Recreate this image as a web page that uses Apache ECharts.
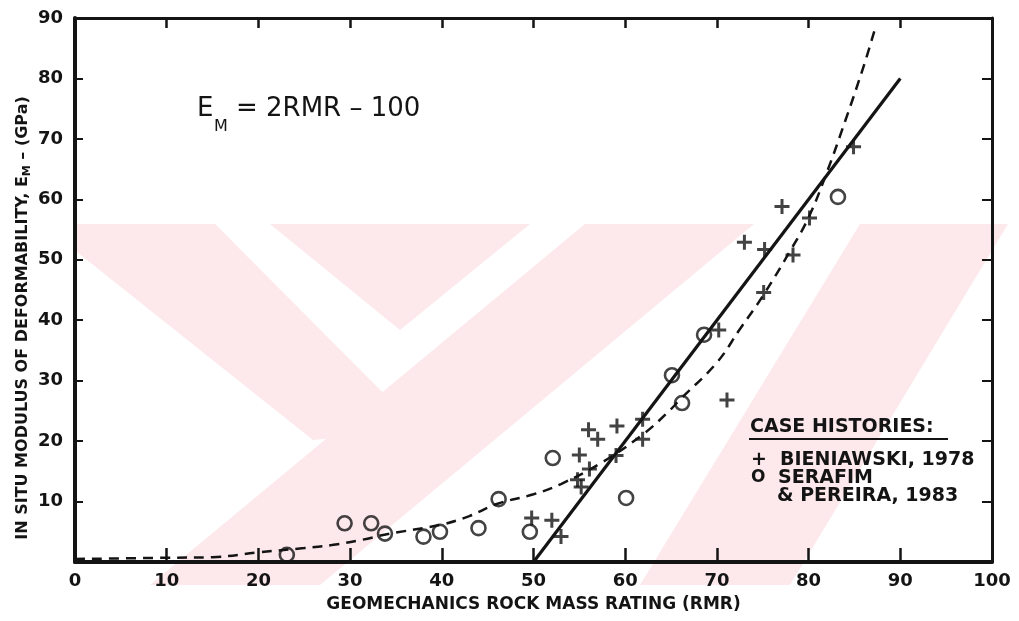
<!DOCTYPE html>
<html>
<head>
<meta charset="utf-8">
<script src="https://cdn.jsdelivr.net/npm/echarts@6/dist/echarts.min.js"></script>
<style>
html,body{margin:0;padding:0;background:#fff;}
#chart{width:1019px;height:621px;}
</style>
</head>
<body>
<div id="chart"></div>
<script>
// ---- data ----
const bieniawskiRMR = [49.8, 52.0, 53.0, 54.8, 55.2, 55.0, 56.1, 56.0, 57.0, 59.1, 59.0, 61.9, 61.9, 70.2, 71.1, 73.0, 75.1, 75.2, 77.1, 78.3, 80.1, 84.9];
const bieniawskiEM  = [7.3, 6.9, 4.2, 13.6, 12.4, 17.7, 15.4, 21.9, 20.3, 22.5, 17.6, 23.6, 20.3, 38.4, 26.8, 52.9, 44.6, 51.7, 58.8, 50.8, 56.9, 68.7];
const serafimRMR = [23.1, 29.4, 32.3, 33.8, 38.0, 39.8, 44.0, 46.2, 49.6, 52.1, 60.1, 65.1, 66.2, 68.6, 83.2];
const serafimEM  = [1.2, 6.4, 6.4, 4.7, 4.2, 5.0, 5.6, 10.4, 5.0, 17.2, 10.6, 30.9, 26.3, 37.6, 60.4];
const linearFitRMR = [50, 90];
const linearFitEM  = [0, 80];
const curveFitRMR = [0, 10, 15, 20, 25, 28, 31.4, 34, 40, 43, 46, 50, 53, 57.6, 62, 64.6, 66, 70, 72.5, 75, 78, 80, 82, 84, 86, 87.2];
const curveFitEM  = [0.5, 0.7, 0.8, 1.6, 2.3, 2.8, 3.7, 4.6, 6.2, 7.6, 9.6, 11.2, 12.9, 16.6, 21.2, 24.7, 26.9, 33.0, 38.5, 44.0, 51.5, 57.0, 64.5, 73.0, 82.0, 88.0];
const xTickLabels = ['0', '10', '20', '30', '40', '50', '60', '70', '80', '90', '100'];
const yTickLabels = ['', '10', '20', '30', '40', '50', '60', '70', '80', '90'];
const xTitle = 'GEOMECHANICS ROCK MASS RATING (RMR)';
const yTitleMain = 'IN SITU MODULUS OF DEFORMABILITY, E';
const yTitleSub = 'M';
const yTitleTail = ' \u2013 (GPa)';
const eqMain = 'E';
const eqSub = 'M';
const eqTail = '= 2RMR \u2013 100';
const legendTitle = 'CASE HISTORIES:';
const legendNames = ['BIENIAWSKI, 1978', 'SERAFIM', '& PEREIRA, 1983'];

// ---- styling ----
const INK = '#141414';
const PINK = '#fde8ec';
const FONT = 'DejaVu Sans';

function pairs(xs, ys) { return xs.map((x, i) => [x, ys[i]]); }
const PLUS = 'path://M4,0H6V4H10V6H6V10H4V6H0V4H4Z';

const chart = echarts.init(document.getElementById('chart'), null, {renderer: 'canvas'});

const labelStyle = {color: INK, fontFamily: FONT, fontWeight: 'bold', fontSize: 18};

const option = {
  backgroundColor: '#ffffff',
  animation: false,
  grid: {left: 75, right: 27, top: 18, bottom: 59},
  xAxis: [
    {
      type: 'value', min: 0, max: 100, interval: 10, position: 'bottom',
      axisLine: {onZero: false, lineStyle: {color: INK, width: 4}},
      axisTick: {inside: true, length: 14, lineStyle: {color: INK, width: 2.5}},
      axisLabel: Object.assign({margin: 10, formatter: v => xTickLabels[Math.round(v / 10)]}, labelStyle),
      splitLine: {show: false},
      name: xTitle, nameLocation: 'middle', nameGap: 34,
      nameTextStyle: {color: INK, fontFamily: FONT, fontWeight: 'bold', fontSize: 17}
    },
    {
      type: 'value', min: 0, max: 100, interval: 10, position: 'top',
      axisLine: {onZero: false, lineStyle: {color: INK, width: 3}},
      axisTick: {inside: true, length: 10, lineStyle: {color: INK, width: 2.5}},
      axisLabel: {show: false},
      splitLine: {show: false}
    }
  ],
  yAxis: [
    {
      type: 'value', min: 0, max: 90, interval: 10, position: 'left',
      axisLine: {onZero: false, lineStyle: {color: INK, width: 4}},
      axisTick: {inside: true, length: 8, lineStyle: {color: INK, width: 2}},
      axisLabel: Object.assign({margin: 12, formatter: v => yTickLabels[Math.round(v / 10)]}, labelStyle),
      splitLine: {show: false}
    },
    {
      type: 'value', min: 0, max: 90, interval: 10, position: 'right',
      axisLine: {onZero: false, lineStyle: {color: INK, width: 3}},
      axisTick: {inside: true, length: 10, lineStyle: {color: INK, width: 2}},
      axisLabel: {show: false},
      splitLine: {show: false}
    }
  ],
  series: [
    {
      name: 'curve', type: 'line', data: pairs(curveFitRMR, curveFitEM), smooth: 0.4,
      showSymbol: false, z: 3,
      lineStyle: {color: INK, width: 2.5, type: [10, 7]}
    },
    {
      name: 'linear', type: 'line', data: pairs(linearFitRMR, linearFitEM),
      showSymbol: false, z: 3,
      lineStyle: {color: INK, width: 3.2}
    },
    {
      name: 'BIENIAWSKI, 1978', type: 'scatter', data: pairs(bieniawskiRMR, bieniawskiEM),
      symbol: PLUS, symbolSize: 15, z: 4,
      itemStyle: {color: INK}
    },
    {
      name: 'SERAFIM & PEREIRA, 1983', type: 'scatter', data: pairs(serafimRMR, serafimEM),
      symbol: 'circle', symbolSize: 14, z: 4,
      itemStyle: {color: 'rgba(255,255,255,0)', borderColor: INK, borderWidth: 2.6}
    }
  ],
  graphic: [
    // faint watermark shapes
    {type: 'polygon', z: -10, silent: true, shape: {points: [[77,224],[215,224],[420,430],[313,440],[77,252]]}, style: {fill: PINK}},
    {type: 'polygon', z: -10, silent: true, shape: {points: [[585,224],[754,224],[320,585],[150,585]]}, style: {fill: PINK}},
    {type: 'polygon', z: -10, silent: true, shape: {points: [[270,224],[530,224],[400,330]]}, style: {fill: PINK}},
    {type: 'polygon', z: -10, silent: true, shape: {points: [[860,224],[1008,224],[790,585],[640,585]]}, style: {fill: PINK}},
    // equation
    {type: 'text', z: 100, x: 197, y: 109, style: {text: eqMain, fill: INK, fontFamily: FONT, fontSize: 26, textVerticalAlign: 'middle'}},
    {type: 'text', z: 100, x: 214, y: 127, style: {text: eqSub, fill: INK, fontFamily: FONT, fontSize: 16, textVerticalAlign: 'middle'}},
    {type: 'text', z: 100, x: 236, y: 109, style: {text: eqTail, fill: INK, fontFamily: FONT, fontSize: 26, textVerticalAlign: 'middle'}},
    // y axis title
    {type: 'text', z: 100, x: 23, y: 318, rotation: Math.PI / 2,
      style: {text: yTitleMain + '{s|' + yTitleSub + '}' + yTitleTail, fill: INK, fontFamily: FONT, fontWeight: 'bold', fontSize: 16,
        textAlign: 'center', textVerticalAlign: 'middle',
        rich: {s: {fontFamily: FONT, fontWeight: 'bold', fontSize: 11, fill: INK, padding: [9, 0, 0, 0]}}}},
    // legend
    {type: 'text', z: 100, x: 750, y: 427, style: {text: legendTitle, fill: INK, fontFamily: FONT, fontWeight: 'bold', fontSize: 19, textVerticalAlign: 'middle'}},
    {type: 'line', z: 100, shape: {x1: 749, y1: 439, x2: 948, y2: 439}, style: {stroke: INK, lineWidth: 2}},
    {type: 'text', z: 100, x: 751, y: 460, style: {text: '+', fill: INK, fontFamily: FONT, fontWeight: 'bold', fontSize: 19, textVerticalAlign: 'middle'}},
    {type: 'text', z: 100, x: 780, y: 460, style: {text: legendNames[0], fill: INK, fontFamily: FONT, fontWeight: 'bold', fontSize: 19, textVerticalAlign: 'middle'}},
    {type: 'text', z: 100, x: 751, y: 478, style: {text: 'O', fill: INK, fontFamily: FONT, fontWeight: 'bold', fontSize: 17, textVerticalAlign: 'middle'}},
    {type: 'text', z: 100, x: 778, y: 478, style: {text: legendNames[1], fill: INK, fontFamily: FONT, fontWeight: 'bold', fontSize: 19, textVerticalAlign: 'middle'}},
    {type: 'text', z: 100, x: 777, y: 496, style: {text: legendNames[2], fill: INK, fontFamily: FONT, fontWeight: 'bold', fontSize: 19, textVerticalAlign: 'middle'}}
  ]
};

chart.setOption(option);
</script>
</body>
</html>
